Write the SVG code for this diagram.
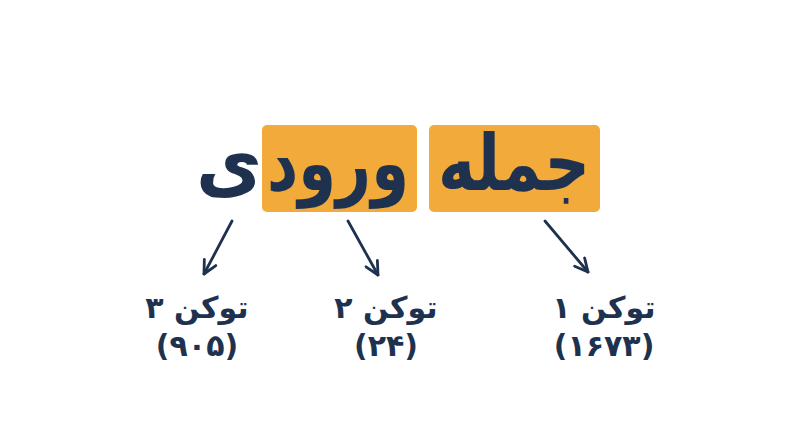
<svg xmlns="http://www.w3.org/2000/svg" width="800" height="447" viewBox="0 0 800 447">
<style>
.box{fill:#F2AB3B}
.big{font-family:"DejaVu Sans",sans-serif;font-weight:bold;font-size:78px;fill:#1E3250}
.lbl{font-family:"DejaVu Sans",sans-serif;font-weight:bold;font-size:30px;fill:#1E3250}
.arr{stroke:#1E3250;stroke-width:2.8;fill:none;stroke-linecap:round;stroke-linejoin:round}
</style>
<defs>
<marker id="ah" viewBox="0 0 16 16" refX="14.5" refY="8" markerWidth="16" markerHeight="16" markerUnits="userSpaceOnUse" orient="auto">
<path d="M1.5,1.5 L14.5,8 L1.5,14.5" fill="none" stroke="#1E3250" stroke-width="2.8" stroke-linecap="round" stroke-linejoin="round"/>
</marker>
</defs>
<rect width="800" height="447" fill="#ffffff"/>
<g id="sentence">
<rect class="box" x="262" y="125" width="155" height="87" rx="5"/>
<rect class="box" x="429" y="125" width="171" height="87" rx="5"/>
<text class="big" x="514" y="190" text-anchor="middle" direction="rtl" textLength="152" lengthAdjust="spacingAndGlyphs">جمله</text>
<text class="big" x="338" y="190" text-anchor="middle" direction="rtl" textLength="142" lengthAdjust="spacingAndGlyphs">ورود</text>
<text class="big" x="229" y="190" text-anchor="middle" direction="rtl" textLength="66" lengthAdjust="spacingAndGlyphs">ی</text>
</g>
<g id="connectors">
<line class="arr" x1="232" y1="221" x2="204" y2="274" marker-end="url(#ah)"/>
<line class="arr" x1="348" y1="221" x2="378" y2="275" marker-end="url(#ah)"/>
<line class="arr" x1="545" y1="221" x2="588" y2="272" marker-end="url(#ah)"/>
</g>
<g id="token3">
<text class="lbl" x="197" y="318" text-anchor="middle" direction="rtl">توکن ۳</text>
<text class="lbl" x="197" y="356" text-anchor="middle" direction="rtl">(۹۰۵)</text>
</g>
<g id="token2">
<text class="lbl" x="386" y="318" text-anchor="middle" direction="rtl">توکن ۲</text>
<text class="lbl" x="386" y="356" text-anchor="middle" direction="rtl">(۲۴)</text>
</g>
<g id="token1">
<text class="lbl" x="604" y="318" text-anchor="middle" direction="rtl">توکن ۱</text>
<text class="lbl" x="604" y="356" text-anchor="middle" direction="rtl">(۱۶۷۳)</text>
</g>
</svg>
